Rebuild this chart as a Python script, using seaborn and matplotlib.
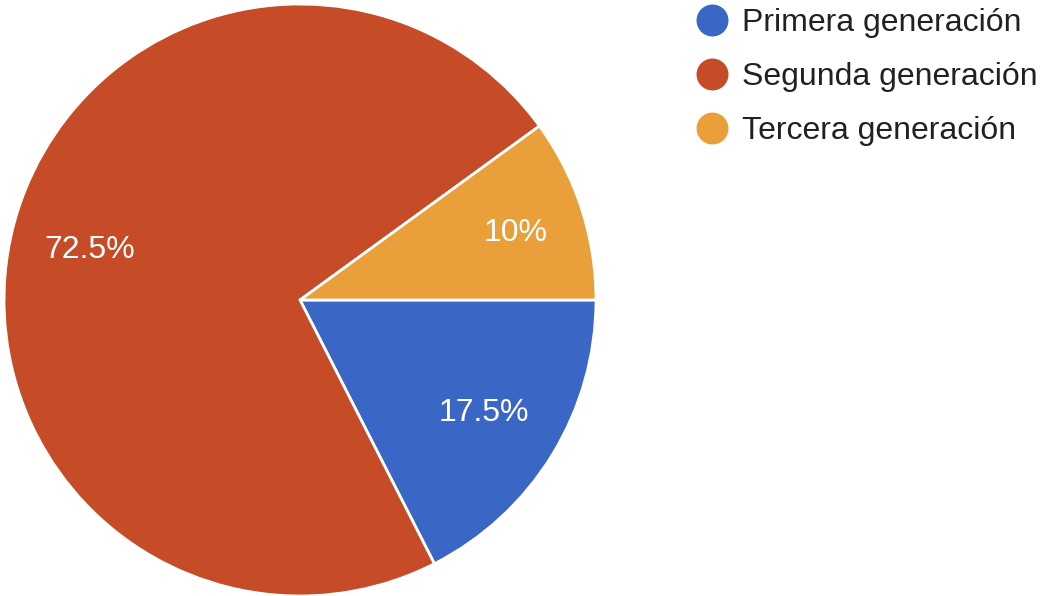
import matplotlib
matplotlib.use("Agg")
import matplotlib.pyplot as plt
from matplotlib.lines import Line2D
import seaborn as sns

categories = ["Primera generación", "Segunda generación", "Tercera generación"]
values = [17.5, 72.5, 10]
labels = ["17.5%", "72.5%", "10%"]
colors = ["#3A66C5", "#C64B27", "#E9A03A"]

sns.set_theme(style="white")
plt.rcParams["font.family"] = ["Liberation Sans", "DejaVu Sans"]

fig = plt.figure(figsize=(10.46, 5.96), dpi=100)
ax = fig.add_axes([4 / 1046, 0 / 596, 592 / 1046, 592 / 596])

wedges, texts = ax.pie(
    values, colors=colors, startangle=0, counterclock=False,
    labels=labels, labeldistance=0.73,
    wedgeprops=dict(edgecolor="white", linewidth=2),
    textprops=dict(color="white", fontsize=23),
)
for t in texts:
    t.set_ha("center")
    t.set_va("center")
x, y = texts[2].get_position()
texts[2].set_position((x * 1.05, y))
ax.set_xlim(-1, 1)
ax.set_ylim(-1, 1)
ax.set_aspect("equal")
ax.axis("off")

handles = [Line2D([0], [0], marker="o", linestyle="", markersize=22,
                  markerfacecolor=c, markeredgecolor=c) for c in colors]
fig.legend(handles, categories, loc="upper left", bbox_to_anchor=(667 / 1046, 1.035),
           frameon=False, fontsize=23, labelcolor="#202124", handletextpad=0.45,
           labelspacing=0.75, handlelength=1.0)

fig.savefig("out.png", dpi=100, facecolor="white")
